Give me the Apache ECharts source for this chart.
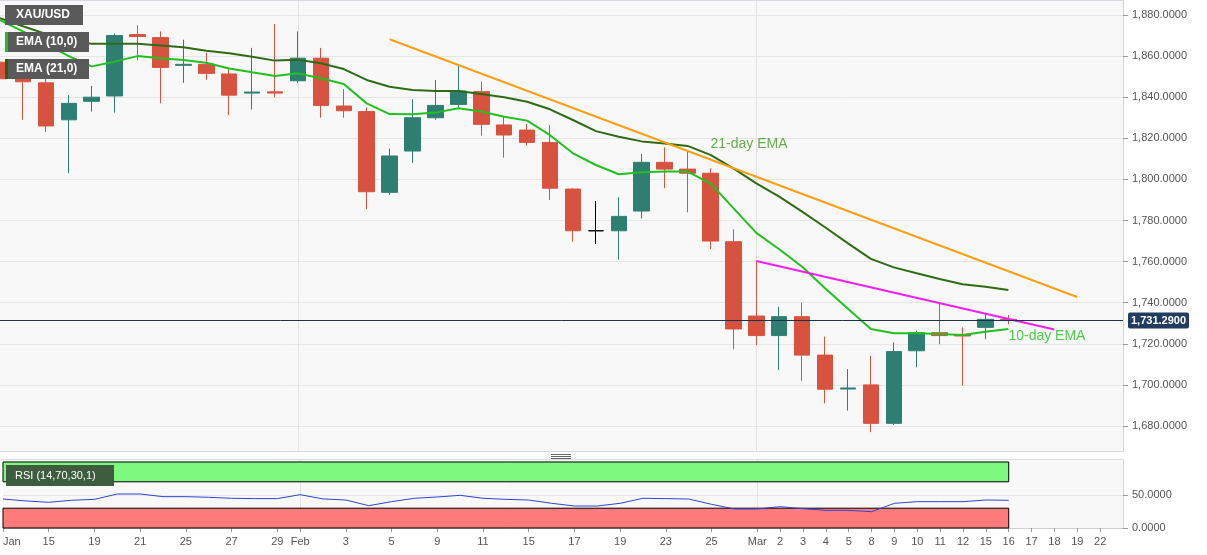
<!DOCTYPE html>
<html>
<head>
<meta charset="utf-8">
<script src="https://cdn.jsdelivr.net/npm/echarts@6/dist/echarts.min.js"></script>
<style>
html,body{margin:0;padding:0;background:#ffffff;}
#chart{width:1207px;height:555px;}
</style>
</head>
<body>
<div id="chart"></div>
<script>
// ---- categories (trading days) ----
const dates = ['Jan 13','Jan 14','Jan 15','Jan 18','Jan 19','Jan 20','Jan 21','Jan 22','Jan 25','Jan 26','Jan 27','Jan 28','Jan 29',
  'Feb 1','Feb 2','Feb 3','Feb 4','Feb 5','Feb 8','Feb 9','Feb 10','Feb 11','Feb 12','Feb 15','Feb 16','Feb 17','Feb 18','Feb 19','Feb 22','Feb 23','Feb 24','Feb 25','Feb 26',
  'Mar 1','Mar 2','Mar 3','Mar 4','Mar 5','Mar 8','Mar 9','Mar 10','Mar 11','Mar 12','Mar 15','Mar 16','Mar 17','Mar 18','Mar 19','Mar 22','Mar 23'];
const xTickLabels = ['Jan','','15','','19','','21','','25','','27','','29',
  'Feb','','3','','5','','9','','11','','15','','17','','19','','23','','25','',
  'Mar','2','3','4','5','8','9','10','11','12','15','16','17','18','19','22',''];
const monthStarts = ['Feb 1','Mar 1'];

// ---- XAU/USD daily OHLC ----
const openP  = [1857,1849,1847,1829,1838,1840.6,1870.5,1869,1855.5,1856,1851.3,1842,1842.6,
  1848,1859,1835.7,1833,1793.7,1813.8,1830,1836.5,1842.7,1826.5,1824,1818,1795.3,1775,1775,1784.6,1808.3,1805,1803,1769.7,
  1733.5,1724,1733.2,1714.5,1698,1700,1681.3,1716.6,1725.4,1724.5,1728,1731.9];
const closeP = [1849,1847.5,1826,1837,1840,1870,1869.5,1854.5,1856,1851.6,1841,1842.5,1842,
  1859,1836,1833.4,1794,1811.4,1830,1836,1843,1826.8,1821.6,1818,1795.7,1775,1775,1782,1808.3,1805,1803,1770,1727.2,
  1724,1733.2,1714.5,1697.9,1698.5,1681.3,1716.2,1725.4,1724,1723.8,1731.9,1731.29];
const lowP   = [1843,1829,1823,1803,1833,1832.5,1858,1837,1847,1848.4,1831.3,1834,1840,
  1847,1830,1830,1785.5,1792.4,1808,1829,1835,1821.3,1810.6,1816.4,1790,1769.7,1768.6,1761,1781,1795.7,1784,1766,1717.3,
  1719.4,1707.3,1702,1691,1687.5,1677,1680.5,1708.6,1719.8,1699.6,1722.2,1729.5];
const highP  = [1862,1853,1852,1841,1845.5,1871,1875,1872,1868,1861.7,1853.6,1864,1875.6,
  1872,1864,1844,1835,1815,1839,1848.4,1855.7,1847.6,1830.5,1827,1826.5,1795.7,1789.5,1791.3,1812.4,1815.6,1813.5,1805.4,1775.7,
  1760,1738,1740,1723.5,1707.7,1714,1720.7,1726.4,1739.7,1728,1734.5,1734];

// ---- indicators ----
const ema10 = [1877.5,1872,1866,1860,1855,1857.3,1860,1859,1858.1,1856.8,1854,1852.1,1850.3,
  1851.6,1849.2,1846.4,1837,1831.8,1831.7,1832.5,1834.6,1833,1830.5,1828.6,1821.5,1812.7,1807,1802.5,1803.5,1803.8,1803.8,1798.1,1786,
  1774,1766,1757.5,1747,1737,1727.2,1725.1,1725.1,1724.8,1724.3,1725.9,1727.2];
const ema21 = [1878.4,1874.5,1870.8,1867.6,1866,1866,1866,1865.2,1864.3,1862.6,1861.4,1859.7,1857.8,
  1858.2,1856.5,1853.7,1848.4,1845.1,1843.5,1843,1843,1841.6,1840,1837.8,1834.1,1828.9,1823.5,1820.8,1818.5,1817.5,1816.3,1811.9,1805.4,
  1798.1,1791.6,1784.3,1776.7,1768.9,1761.3,1757.2,1754.3,1751.5,1749,1747.8,1746.2];
const rsi = [43.9,41,38.9,42,43.4,51.5,51.5,47.5,47.5,46.5,45,44.5,44.5,
  50.5,44,42.4,33.8,39.9,45,47,49.5,45,43.4,42.4,37.4,33.3,33.3,37.4,45,44.5,43.9,35.9,28.8,
  28.8,32.3,29.3,26.8,26.8,24.7,37.4,39.9,39.9,39.9,42.4,42];

// ---- trend lines & annotations ----
const resistanceLine = [['Feb 5',1868.2],['Mar 19',1742.8]];
const shortTrendLine = [['Mar 1',1760.3],['Mar 18',1727]];
const lastPrice = 1731.29;
const ema21Note = [['Feb 25',1817.2,'21-day EMA']];
const ema10Note = [['Mar 16',1723.8,'10-day EMA']];
const rsiUpper = 70, rsiLower = 30;
const rsiTicks = [0, 50];

// ---- axis ranges ----
const priceMin = 1667.83, priceMax = 1887.3;
const rsiMin = 0, rsiMax = 103;

const FONT = '"Liberation Sans", Arial, sans-serif';
const fmtPrice = v => v.toLocaleString('en-US',{minimumFractionDigits:4,maximumFractionDigits:4});
const candleData = openP.map((o,i)=>[o, closeP[i], lowP[i], highP[i]]);
const showLabel = (i) => xTickLabels[i] !== '' && xTickLabels[i] !== undefined;
const showMonth = (i) => monthStarts.indexOf(dates[i]) >= 0;

const UP = '#2f7e72', DOWN = '#d7533f';

const chart = echarts.init(document.getElementById('chart'), null, {renderer:'canvas'});
chart.setOption({
  animation:false,
  backgroundColor:'#ffffff',
  textStyle:{fontFamily:FONT},
  grid:[
    {left:0, right:84, top:0, height:451, show:true, backgroundColor:'#f8f8f9', borderWidth:0},
    {left:0, right:84, top:460, height:68, show:true, backgroundColor:'#f8f8f9', borderWidth:0}
  ],
  xAxis:[
    {gridIndex:0, type:'category', data:dates, boundaryGap:false,
      axisLine:{show:false}, axisTick:{show:false}, axisLabel:{show:false},
      splitLine:{show:true, interval:(i)=>showMonth(i), lineStyle:{color:'#e2e2e2'}}},
    {gridIndex:1, type:'category', data:dates, boundaryGap:false,
      axisLine:{show:true, lineStyle:{color:'#cfcfcf'}},
      axisTick:{show:true, interval:(i)=>showLabel(i), length:4, lineStyle:{color:'#999'}},
      axisLabel:{show:true, interval:(i)=>showLabel(i), formatter:(v,i)=>xTickLabels[i], color:'#555', fontSize:11, fontFamily:FONT, margin:8, alignMinLabel:'left'},
      splitLine:{show:true, interval:(i)=>showMonth(i), lineStyle:{color:'#e2e2e2'}}}
  ],
  yAxis:[
    {gridIndex:0, type:'value', position:'right', min:priceMin, max:priceMax, splitNumber:11,
      axisLine:{show:true, lineStyle:{color:'#d4d4d4'}},
      axisTick:{show:true, length:5, lineStyle:{color:'#9a9a9a'}},
      axisLabel:{margin:9, color:'#555', fontSize:11, fontFamily:FONT, showMinLabel:false, showMaxLabel:false,
        formatter:v => (Math.abs(v % 20) < 1e-6 ? fmtPrice(v) : '')},
      splitLine:{show:true, lineStyle:{color:'#e6e6e6'}}},
    {gridIndex:1, type:'value', position:'right', min:rsiMin, max:rsiMax, interval:50,
      axisLine:{show:true, lineStyle:{color:'#d4d4d4'}},
      axisTick:{show:true, length:5, customValues:rsiTicks, lineStyle:{color:'#9a9a9a'}},
      axisLabel:{margin:9, color:'#555', fontSize:11, fontFamily:FONT, customValues:rsiTicks,
        formatter:v => (v === 0 || v === 50 ? v.toFixed(4) : '')},
      splitLine:{show:true, lineStyle:{color:'#e6e6e6'}}}
  ],
  series:[
    {name:'XAU/USD', type:'candlestick', xAxisIndex:0, yAxisIndex:0, data:candleData, barWidth:16,
      itemStyle:{color:UP, color0:DOWN, borderColor:UP, borderColor0:DOWN, borderColorDoji:'#000000', borderWidth:1},
      markLine:{silent:true, symbol:['none','none'], animation:false,
        lineStyle:{color:'#1d3150', width:1, type:'solid'},
        label:{show:true, position:'end', distance:5, formatter:()=>fmtPrice(lastPrice),
          backgroundColor:'#223c60', color:'#ffffff', fontWeight:'bold', fontSize:11, fontFamily:FONT, padding:[3,3,2,3], borderRadius:2},
        data:[{yAxis:lastPrice}]}},
    {name:'EMA (21,0)', type:'line', xAxisIndex:0, yAxisIndex:0, data:ema21, showSymbol:false, symbol:'none',
      lineStyle:{color:'#2e6b14', width:2}, z:3},
    {name:'EMA (10,0)', type:'line', xAxisIndex:0, yAxisIndex:0, data:ema10, showSymbol:false, symbol:'none',
      lineStyle:{color:'#22c01f', width:2}, z:3},
    {name:'Resistance', type:'line', xAxisIndex:0, yAxisIndex:0, data:resistanceLine, showSymbol:false, symbol:'none',
      lineStyle:{color:'#f6a114', width:2}, z:4},
    {name:'Trend', type:'line', xAxisIndex:0, yAxisIndex:0, data:shortTrendLine, showSymbol:false, symbol:'none',
      lineStyle:{color:'#f020f0', width:2}, z:4},
    {name:'21 note', type:'scatter', xAxisIndex:0, yAxisIndex:0, symbolSize:0, silent:true,
      data:ema21Note.map(d=>({value:[d[0],d[1]], name:d[2]})),
      label:{show:true, position:'right', distance:0, formatter:p=>p.name, color:'#3f9a22', fontSize:14, fontFamily:FONT}},
    {name:'10 note', type:'scatter', xAxisIndex:0, yAxisIndex:0, symbolSize:0, silent:true,
      data:ema10Note.map(d=>({value:[d[0],d[1]], name:d[2]})),
      label:{show:true, position:'right', distance:0, formatter:p=>p.name, color:'#22c01f', fontSize:14, fontFamily:FONT}},
    {name:'RSI (14,70,30,1)', type:'line', xAxisIndex:1, yAxisIndex:1, data:rsi, showSymbol:false, symbol:'none',
      lineStyle:{color:'#2f44d2', width:1}, z:5,
      markArea:{silent:true, animation:false,
        data:[
          [{xAxis:dates[0], yAxis:rsiUpper, itemStyle:{color:'#7ef87e', borderColor:'#000', borderWidth:1}}, {xAxis:dates[rsi.length-1], yAxis:100}],
          [{xAxis:dates[0], yAxis:0, itemStyle:{color:'#ff7b7b', borderColor:'#000', borderWidth:1}}, {xAxis:dates[rsi.length-1], yAxis:rsiLower}]
        ]}}
  ],
  graphic:[
    {type:'line', z:50, shape:{x1:0,y1:0.5,x2:1123,y2:0.5}, style:{stroke:'#ddd6ea', lineWidth:1}},
    {type:'line', z:50, shape:{x1:0,y1:451.5,x2:1123,y2:451.5}, style:{stroke:'#ddd6ea', lineWidth:1}},
    {type:'line', z:50, shape:{x1:0,y1:459.5,x2:1123,y2:459.5}, style:{stroke:'#dedede', lineWidth:1}},
    {type:'line', z:50, shape:{x1:551,y1:454.5,x2:571,y2:454.5}, style:{stroke:'#666', lineWidth:1}},
    {type:'line', z:50, shape:{x1:551,y1:456.5,x2:571,y2:456.5}, style:{stroke:'#666', lineWidth:1}},
    {type:'line', z:50, shape:{x1:551,y1:458.5,x2:571,y2:458.5}, style:{stroke:'#666', lineWidth:1}},
    {type:'rect', z:100, shape:{x:5,y:5,width:78,height:20}, style:{fill:'#595959'}},
    {type:'text', z:101, x:16, y:15, style:{text:'XAU/USD', fill:'#fff', font:'bold 12px '+FONT, verticalAlign:'middle'}},
    {type:'rect', z:100, shape:{x:5,y:32,width:84,height:20}, style:{fill:'#595959'}},
    {type:'rect', z:101, shape:{x:5,y:32,width:3,height:20}, style:{fill:'#22c01f'}},
    {type:'text', z:101, x:16, y:42, style:{text:'EMA (10,0)', fill:'#fff', font:'bold 12px '+FONT, verticalAlign:'middle'}},
    {type:'rect', z:100, shape:{x:5,y:59,width:84,height:20}, style:{fill:'#595959'}},
    {type:'rect', z:101, shape:{x:5,y:59,width:3,height:20}, style:{fill:'#2e5a12'}},
    {type:'text', z:101, x:16, y:69, style:{text:'EMA (21,0)', fill:'#fff', font:'bold 12px '+FONT, verticalAlign:'middle'}},
    {type:'rect', z:100, shape:{x:6,y:465,width:108,height:21}, style:{fill:'#3e5c3e'}},
    {type:'text', z:101, x:15, y:476, style:{text:'RSI (14,70,30,1)', fill:'#fff', font:'11px '+FONT, verticalAlign:'middle'}}
  ]
});
</script>
</body>
</html>
